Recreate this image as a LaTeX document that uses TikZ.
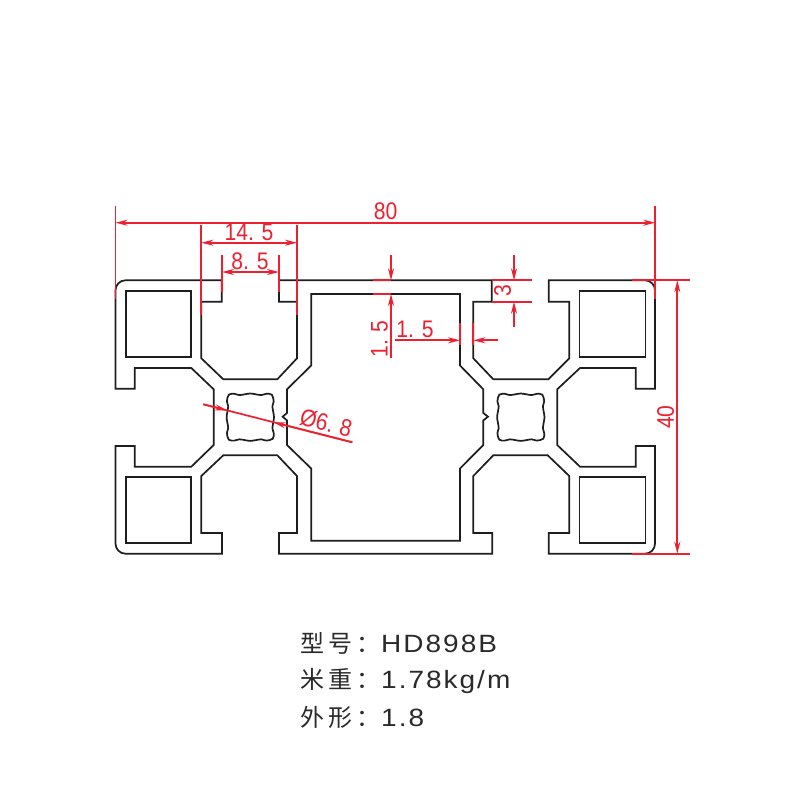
\documentclass[tikz,border=0pt]{standalone}
\usepackage{fontspec}
\usetikzlibrary{arrows.meta}
\newfontfamily\dimfont[FakeStretch=0.88]{Liberation Sans}
\newfontfamily\latinlab[LetterSpace=8,FakeStretch=1.12]{Liberation Sans}
\newfontfamily\cjklab[LetterSpace=17]{Noto Sans CJK SC}
\definecolor{dimred}{HTML}{EE2030}
\definecolor{outline}{HTML}{1E1E1E}
\definecolor{labelink}{HTML}{2A2A2A}
\tikzset{
  profile/.style={draw=outline,line width=1.7pt,line join=miter},
  dimline/.style={draw=dimred,line width=1.7pt},
  dimarrow/.style={dimred,line width=1.7pt,-{Stealth[length=12pt,width=6pt]}},
  dimtext/.style={text=dimred,inner sep=0pt,font=\dimfont\fontsize{24}{24}\selectfont},
  infotext/.style={text=labelink,inner sep=0pt,anchor=base west},
}
\newcommand{\wavyhole}[2]{%
  \draw[profile,shift={(#1,#2)}] plot[smooth cycle,tension=.55] coordinates {
   (-21.5,-22.5)(-16,-23.4)(-11,-22.1)(-5,-23)(0,-23.7)(5,-23)(11,-22.1)(16,-23.4)(21.5,-22.5)
   (23.4,-16)(22.1,-11)(23,-5)(23.7,0)(23,5)(22.1,11)(23.4,16)(22.5,21.5)
   (16,23.4)(11,22.1)(5,23)(0,23.7)(-5,23)(-11,22.1)(-16,23.4)(-21.5,22.5)
   (-23.4,16)(-22.1,11)(-23,5)(-23.7,0)(-23,-5)(-22.1,-11)(-23.4,-16)};
}
\begin{document}
\begin{tikzpicture}[x=1pt,y=-1pt]
\useasboundingbox[fill=white] (0,0) rectangle (800,800);
% outer contour
\draw[profile] (125.5,280.3) -- (221.7,280.3) -- (221.7,301.7) -- (201.3,301.7) -- (201.3,358.3)
 -- (223.3,379.3) -- (277.3,379.3) -- (297,358.3) -- (297,301.7) -- (279,301.7) -- (279,280.3)
 -- (491.7,280.3) -- (491.7,301.7) -- (473.3,301.7) -- (473.3,358.3) -- (493.3,379.3)
 -- (548.3,379.3) -- (569.3,358.3) -- (569.3,301.7) -- (548.7,301.7) -- (548.7,280.3)
 -- (645,280.3) .. controls (650.5,280.3) and (655,284.8) .. (655,290.3) -- (655,388.7) -- (635.7,388.7)
 -- (635.7,368) -- (580,368) -- (557.2,389.3) -- (557.2,445) -- (580,466.7) -- (635.7,466.7)
 -- (635.7,446) -- (655,446) -- (655,543.7) .. controls (655,549.2) and (650.5,553.7) .. (645,553.7)
 -- (548.7,553.7) -- (548.7,533) -- (569.3,533) -- (569.3,476) -- (547.7,455.3) -- (493.3,455.3)
 -- (473.3,476) -- (473.3,533) -- (492.3,533) -- (492.3,553.7) -- (279,553.7) -- (279,533)
 -- (297,533) -- (297,476) -- (277.3,455.3) -- (223.3,455.3) -- (201.3,476) -- (201.3,533)
 -- (222,533) -- (222,553.7) -- (125.5,553.7) .. controls (120,553.7) and (115.5,549.2) .. (115.5,543.7)
 -- (115.5,446) -- (134.7,446) -- (134.7,466.7) -- (191.3,466.7) -- (213.7,445) -- (213.7,389.3)
 -- (191.3,368) -- (134.7,368) -- (134.7,388.7) -- (115.5,388.7) -- (115.5,290.3)
 .. controls (115.5,284.8) and (120,280.3) .. (125.5,280.3) -- cycle;
% central cavity
\draw[profile] (311.2,294) -- (460,294) -- (460,365.5) -- (483.3,389.3) -- (483.3,413)
 -- (488,416.7) -- (483.3,420.4) -- (483.3,445) -- (460,468.5) -- (460,540.7) -- (311.2,540.7)
 -- (311.2,468.5) -- (287,445) -- (287,420.4) -- (282.6,416.7) -- (287,413) -- (287,389.3)
 -- (311.2,365.5) -- cycle;
% corner chambers
\draw[profile] (125.7,291.3) rectangle (191,357);
\draw[profile] (579.5,291.3) rectangle (645.5,357);
\draw[profile] (125.7,477.3) rectangle (191,543.3);
\draw[profile] (579.5,477.3) rectangle (645.5,543.3);
% screw holes
\wavyhole{250.3}{417.2}
\wavyhole{520.8}{417.2}
% dimension 80
\draw[dimline] (115.5,205.7) -- (115.5,299);
\draw[dimline] (655.3,205.7) -- (655.3,299);
\coordinate (m80) at (385,222.7);
\draw[dimarrow] (m80) -- (115.5,222.7);
\draw[dimarrow] (m80) -- (655.3,222.7);
\node[dimtext] (t80) at (385.5,211) {80};
% dimension 14.5
\draw[dimline] (201.3,225) -- (201.3,315);
\draw[dimline] (297,225) -- (297,315);
\coordinate (m145) at (249,242.7);
\draw[dimarrow] (m145) -- (201.3,242.7);
\draw[dimarrow] (m145) -- (297,242.7);
\node[dimtext] (t145) at (249,232) {14. 5};
% dimension 8.5
\draw[dimline] (222,255) -- (222,291.7);
\draw[dimline] (279,255) -- (279,291.7);
\coordinate (m85) at (250.5,272);
\draw[dimarrow] (m85) -- (222,272);
\draw[dimarrow] (m85) -- (279,272);
\node[dimtext] (t85) at (250,261) {8. 5};
% dimension 1.5 vertical
\draw[dimline] (373.3,280.3) -- (391,280.3);
\draw[dimline] (373.3,294) -- (391,294);
\coordinate (v15a) at (391,255);
\coordinate (v15b) at (391,358.3);
\draw[dimarrow] (v15a) -- (391,280.3);
\draw[dimarrow] (v15b) -- (391,294);
\node[dimtext,rotate=90] (t15v) at (379.5,339) {1. 5};
% dimension 1.5 horizontal
\draw[dimline] (460,323) -- (460,345);
\draw[dimline] (473.3,323) -- (473.3,345);
\coordinate (h15a) at (395,340.3);
\coordinate (h15b) at (498.3,340.3);
\draw[dimarrow] (h15a) -- (460,340.3);
\draw[dimarrow] (h15b) -- (473.3,340.3);
\node[dimtext] (t15h) at (415,329.5) {1. 5};
% dimension 3
\draw[dimline] (491.7,280.3) -- (531.7,280.3);
\draw[dimline] (491.7,301.7) -- (531.7,301.7);
\coordinate (d3a) at (514,255);
\coordinate (d3b) at (514,326.7);
\draw[dimarrow] (d3a) -- (514,280.3);
\draw[dimarrow] (d3b) -- (514,301.7);
\node[dimtext,rotate=90] (t3) at (502.5,291) {3};
% dimension 40
\draw[dimline] (631.7,280.3) -- (690,280.3);
\draw[dimline] (631.7,553.7) -- (690,553.7);
\coordinate (m40) at (677.3,417);
\draw[dimarrow] (m40) -- (677.3,280.3);
\draw[dimarrow] (m40) -- (677.3,553.7);
\node[dimtext,rotate=90] (t40) at (665.5,417) {40};
% diameter 6.8
\coordinate (da) at (203.3,404.3);
\coordinate (db) at (352.3,442.3);
\draw[dimline] (da) -- (db);
\draw[dimarrow] (da) -- (227,410.3);
\draw[dimarrow] (db) -- (273.5,422.3);
\node[dimtext,rotate=-14.3] (t68) at (326,423) {Ø6.\kern.28em 8};
% information
\node[infotext] (info1) at (300,652) {\makebox[81pt][l]{\fontsize{24}{24}\selectfont\cjklab 型号：}\fontsize{25}{25}\selectfont\latinlab HD898B};
\node[infotext] (info2) at (300,688.5) {\makebox[81pt][l]{\fontsize{24}{24}\selectfont\cjklab 米重：}\fontsize{25}{25}\selectfont\latinlab 1.78kg/m};
\node[infotext] (info3) at (300,726.5) {\makebox[81pt][l]{\fontsize{24}{24}\selectfont\cjklab 外形：}\fontsize{25}{25}\selectfont\latinlab 1.8};
\end{tikzpicture}
\end{document}
